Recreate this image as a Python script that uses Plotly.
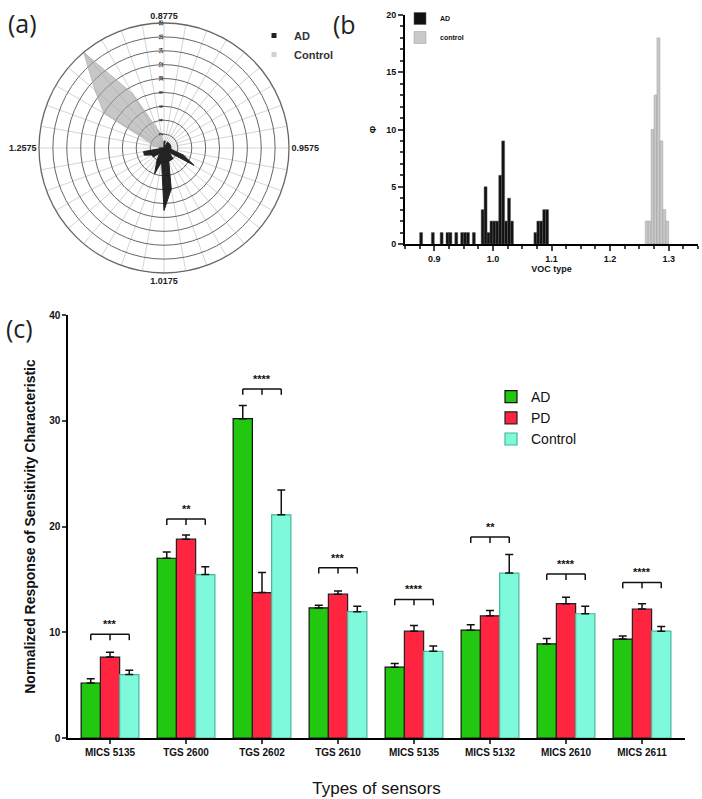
import plotly.graph_objects as go

# ---------------- (a) radar data ----------------
polar_cats = ["0.8775", "0.8975", "0.9025", "0.9125", "0.9225", "0.9275", "0.9375", "0.9475", "0.9525",
              "0.9575", "0.9675", "0.9825", "0.9875", "0.9925", "0.9975", "1.0025", "1.0075", "1.0125",
              "1.0175", "1.0225", "1.0275", "1.0325", "1.0725", "1.0775", "1.0825", "1.0875", "1.0925",
              "1.2575", "1.2625", "1.2675", "1.2725", "1.2775", "1.2825", "1.2875", "1.2925", "1.2975"]
polar_labels = ["0.8775", "0.9575", "1.0175", "1.2575"]
polar_ad = [1, 1, 0, 1, 1, 1, 1, 1, 1,
            1, 1, 3, 5, 1, 2, 2, 2, 6,
            9, 2, 4, 2, 1, 2, 2, 3, 3,
            0, 0, 0, 0, 0, 0, 0, 0, 0]
polar_ctrl = [0, 0, 0, 0, 0, 0, 0, 0, 0,
              0, 0, 0, 0, 0, 0, 0, 0, 0,
              0, 0, 0, 0, 0, 0, 0, 0, 0,
              0, 2, 2, 10, 13, 18, 9, 3, 2]

# ---------------- (b) histogram data ----------------
hist_ad_x = [0.8775, 0.8975, 0.9125, 0.9225, 0.9275, 0.9375, 0.9475, 0.9525, 0.9575, 0.9675,
             0.9825, 0.9875, 0.9925, 0.9975, 1.0025, 1.0075, 1.0125, 1.0175, 1.0225, 1.0275,
             1.0325, 1.0725, 1.0775, 1.0825, 1.0875, 1.0925]
hist_ad_y = [1, 1, 1, 1, 1, 1, 1, 1, 1, 1,
             3, 5, 1, 2, 2, 2, 6, 9, 2, 4,
             2, 1, 2, 2, 3, 3]
hist_ctrl_x = [1.2625, 1.2675, 1.2725, 1.2775, 1.2825, 1.2875, 1.2925, 1.2975]
hist_ctrl_y = [2, 2, 10, 13, 18, 9, 3, 2]
hist_bin_width = 0.005

# ---------------- (c) bar data ----------------
sensors = ["MICS 5135", "TGS 2600", "TGS 2602", "TGS 2610", "MICS 5135", "MICS 5132", "MICS 2610", "MICS 2611"]
ad_mean = [5.2, 17.0, 30.2, 12.3, 6.7, 10.2, 8.9, 9.35]
ad_err = [0.4, 0.6, 1.25, 0.25, 0.35, 0.5, 0.5, 0.3]
pd_mean = [7.65, 18.8, 13.75, 13.6, 10.1, 11.55, 12.7, 12.2]
pd_err = [0.45, 0.4, 1.9, 0.3, 0.55, 0.5, 0.6, 0.5]
ctrl_mean = [6.0, 15.45, 21.1, 11.95, 8.2, 15.6, 11.75, 10.1]
ctrl_err = [0.4, 0.75, 2.35, 0.5, 0.5, 1.75, 0.7, 0.45]
sig_top = [9.8, 20.7, 33.0, 16.1, 13.1, 19.0, 15.5, 14.7]
sig_text = ["***", "**", "****", "***", "****", "**", "****", "****"]

FONT = "Liberation Sans, Arial, sans-serif"
W, H = 702, 799


def px_x(a, b):
    return [a / W, b / W]


def px_y(top, bottom):
    return [1 - bottom / H, 1 - top / H]


def fx(x):
    return x / W


def fy(y):
    return 1 - y / H


fig = go.Figure()

# (a) radar
fig.add_trace(go.Scatterpolar(
    r=polar_ctrl + polar_ctrl[:1], theta=polar_cats + polar_cats[:1], name="Control",
    mode="lines", fill="toself", fillcolor="rgba(165,165,165,0.62)",
    line=dict(color="#b4b4b4", width=0.8), showlegend=False, subplot="polar"))
fig.add_trace(go.Scatterpolar(
    r=polar_ad + polar_ad[:1], theta=polar_cats + polar_cats[:1], name="AD",
    mode="lines", fill="toself", fillcolor="rgba(25,25,25,0.95)",
    line=dict(color="#222", width=1), showlegend=False, subplot="polar"))
# legend entries for the radar (small square keys as in the original)
fig.add_trace(go.Scatterpolar(r=[None], theta=[polar_cats[0]], name="AD", mode="markers",
                              marker=dict(symbol="square", size=5, color="#222"),
                              legend="legend", subplot="polar"))
fig.add_trace(go.Scatterpolar(r=[None], theta=[polar_cats[0]], name="Control", mode="markers",
                              marker=dict(symbol="square", size=5, color="#d0d0d0"),
                              legend="legend", subplot="polar"))

# (b) histogram
fig.add_trace(go.Bar(
    x=hist_ad_x, y=hist_ad_y, width=hist_bin_width, offset=-hist_bin_width / 2, name="AD",
    marker=dict(color="#111111", line=dict(color="#555", width=0.5)),
    xaxis="x", yaxis="y", legend="legend2"))
fig.add_trace(go.Bar(
    x=hist_ctrl_x, y=hist_ctrl_y, width=hist_bin_width, offset=-hist_bin_width / 2, name="control",
    marker=dict(color="#c9c9c9", line=dict(color="#9a9a9a", width=0.5)),
    xaxis="x", yaxis="y", legend="legend2"))

# (c) grouped bars
xs = list(range(len(sensors)))
for name, mean, err, col, lc in [("AD", ad_mean, ad_err, "#22c810", "#111"),
                                 ("PD", pd_mean, pd_err, "#ff2440", "#222"),
                                 ("Control", ctrl_mean, ctrl_err, "#7ff9dc", "#45b896")]:
    fig.add_trace(go.Bar(
        x=xs, y=mean, name=name,
        marker=dict(color=col, line=dict(color=lc, width=1.2)),
        error_y=dict(type="data", array=err, arrayminus=[0] * len(err), symmetric=False,
                     color="#111", thickness=1.5, width=4),
        xaxis="x2", yaxis="y2", legend="legend3"))

bargap = 0.24
bw = (1 - bargap) / 3
shapes = []
annotations = []
for i, (top, txt) in enumerate(zip(sig_top, sig_text)):
    x0, x1 = i - bw, i + bw
    drop = 0.55
    shapes.append(dict(type="line", xref="x2", yref="y2", x0=x0, x1=x1, y0=top, y1=top,
                       line=dict(color="#111", width=1.5)))
    for xx in (x0, i, x1):
        shapes.append(dict(type="line", xref="x2", yref="y2", x0=xx, x1=xx, y0=top, y1=top - drop,
                           line=dict(color="#111", width=1.5)))
    annotations.append(dict(xref="x2", yref="y2", x=i, y=top + 0.2, yanchor="bottom", showarrow=False,
                            text=txt, font=dict(family=FONT, size=11, color="#111", weight="bold")))

# panel labels
for txt, x, y in [("(a)", 6, 23), ("(b", 331, 24), ("(c)", 4, 328)]:
    annotations.append(dict(xref="paper", yref="paper", x=fx(x), y=fy(y), xanchor="left",
                            yanchor="middle", showarrow=False, text=txt,
                            font=dict(family="Open Sans, Liberation Sans, sans-serif", size=25, color="#222")))

fig.update_layout(
    width=W, height=H, margin=dict(l=0, r=0, t=0, b=0, autoexpand=False),
    paper_bgcolor="white", plot_bgcolor="white",
    font=dict(family=FONT, color="#111"),
    barmode="group", bargap=bargap, bargroupgap=0,
    shapes=shapes, annotations=annotations,
    polar=dict(
        domain=dict(x=px_x(39, 289), y=px_y(23, 273)),
        bgcolor="white",
        angularaxis=dict(type="category", categoryarray=polar_cats, rotation=90, direction="clockwise",
                         tickmode="array", tickvals=polar_cats,
                         ticktext=[c if c in polar_labels else "" for c in polar_cats],
                         showline=True, linecolor="#666", linewidth=1.3, gridcolor="#d4d4d4",
                         gridwidth=0.8, ticks="",
                         tickfont=dict(size=9, weight="bold", color="#222")),
        radialaxis=dict(range=[0, 18], dtick=2, angle=90, side="counterclockwise", tickangle=0,
                        showline=False, gridcolor="#666", gridwidth=1.2, ticks="",
                        tickfont=dict(size=5, weight="bold", color="#222"))),
    xaxis=dict(domain=px_x(405, 698), anchor="y", range=[0.85, 1.35], tickvals=[0.9, 1.0, 1.1, 1.2, 1.3],
               tickformat=".1f", showline=True, linecolor="black", linewidth=2, ticks="outside",
               ticklen=5, tickwidth=1.5, showgrid=False, zeroline=False, automargin=False,
               minor=dict(dtick=0.025, tick0=0.85, ticks="outside", ticklen=3, tickwidth=1.5, showgrid=False),
               tickfont=dict(size=9, weight="bold"),
               title=dict(text="VOC type", font=dict(size=9, weight="bold"), standoff=1)),
    yaxis=dict(domain=px_y(15, 244), anchor="x", range=[0, 20], dtick=5, showline=True, linecolor="black",
               linewidth=2, ticks="outside", ticklen=5, tickwidth=1.5, showgrid=False, zeroline=False,
               automargin=False,
               minor=dict(dtick=1, ticks="outside", ticklen=3, tickwidth=1.5, showgrid=False),
               tickfont=dict(size=9, weight="bold"),
               title=dict(text="Φ", font=dict(size=9, weight="bold"), standoff=8)),
    xaxis2=dict(domain=px_x(68, 685), anchor="y2", range=[-0.553, 7.566], tickmode="array", tickvals=xs,
                ticktext=sensors, showline=True, linecolor="black", linewidth=2, ticks="outside", ticklen=4,
                tickwidth=1.5, showgrid=False, zeroline=False, automargin=False,
                tickfont=dict(size=10, weight="bold"),
                title=dict(text="Types of sensors", font=dict(size=17), standoff=25)),
    yaxis2=dict(domain=px_y(315, 738), anchor="x2", range=[0, 40], dtick=10, showline=True, linecolor="black",
                linewidth=1.5, ticks="outside", ticklen=4, tickwidth=1.5, showgrid=False, zeroline=False,
                automargin=False,
                tickfont=dict(size=10, weight="bold"),
                title=dict(text="Normalized Response of Sensitivity Characteristic",
                           font=dict(size=14, weight="bold"), standoff=10)),
    legend=dict(x=fx(254), y=fy(21), xanchor="left", yanchor="top", bgcolor="rgba(0,0,0,0)",
                font=dict(size=11, weight="bold", color="#333"), itemwidth=30, tracegroupgap=0),
    legend2=dict(x=fx(400), y=fy(4), xanchor="left", yanchor="top", bgcolor="rgba(0,0,0,0)",
                 font=dict(size=7, weight="bold"), itemwidth=30),
    legend3=dict(x=fx(491), y=fy(381), xanchor="left", yanchor="top", bgcolor="rgba(0,0,0,0)",
                 font=dict(size=14), itemwidth=30),
)

# remove the default 8px page margin so the 702x799 figure fills the window exactly
fig.write_html("out.html", config={"displayModeBar": False},
               post_script="document.body.style.margin='0px';")
